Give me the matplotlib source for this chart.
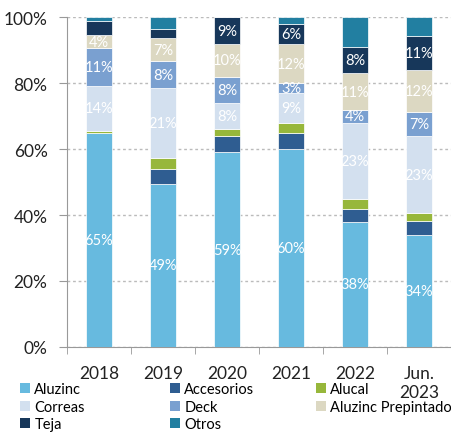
import matplotlib.pyplot as plt
from matplotlib.patches import Patch
import numpy as np

plt.rcParams['font.family'] = ['Lato', 'DejaVu Sans']

years = ['2018', '2019', '2020', '2021', '2022', 'Jun.\n2023']
series = ['Aluzinc', 'Accesorios', 'Alucal', 'Correas', 'Deck',
          'Aluzinc Prepintado', 'Teja', 'Otros']

aluzinc     = [64.8, 49.4, 59.0, 60.0, 38.0, 34.0]
accesorios  = [0.0, 4.5, 5.0, 5.0, 3.8, 4.2]
alucal      = [0.8, 3.3, 2.0, 2.9, 3.1, 2.5]
correas     = [13.6, 21.2, 7.9, 9.1, 23.1, 23.1]
deck        = [11.3, 8.3, 8.0, 3.0, 3.8, 7.5]
prepintado  = [4.1, 6.9, 9.9, 11.8, 11.1, 12.5]
teja        = [4.1, 2.9, 8.2, 6.2, 8.0, 10.5]
otros       = [1.3, 3.5, 0.0, 2.0, 9.1, 5.7]

# labels printed inside the bars (None = no label)
lab_aluzinc    = ['65%', '49%', '59%', '60%', '38%', '34%']
lab_correas    = ['14%', '21%', '8%', '9%', '23%', '23%']
lab_deck       = ['11%', '8%', '8%', '3%', '4%', '7%']
lab_prepintado = ['4%', '7%', '10%', '12%', '11%', '12%']
lab_teja       = [None, None, '9%', '6%', '8%', '11%']

colors = ['#67BADF', '#2F5D91', '#97B73B', '#D3E0EF', '#7AA0D0',
          '#DCD8C2', '#17375A', '#227FA1']

values = [aluzinc, accesorios, alucal, correas, deck, prepintado, teja, otros]
labels = [lab_aluzinc, None, None, lab_correas, lab_deck, lab_prepintado,
          lab_teja, None]

fig = plt.figure(figsize=(4.51, 4.35), dpi=100)
ax = fig.add_axes([67 / 451, 1 - 348 / 435, 384 / 451, 330 / 435])

x = np.arange(len(years))
bottom = np.zeros(len(years))
for vals, col, labs, name in zip(values, colors, labels, series):
    vals = np.array(vals)
    ax.bar(x, vals, 0.4, bottom=bottom, color=col, edgecolor='white',
           linewidth=0.5, label=name, zorder=3)
    if labs is not None:
        for xi, b, v, t in zip(x, bottom, vals, labs):
            if t:
                ax.text(xi, b + v / 2, t, ha='center', va='center',
                        color='white', fontsize=10.5, zorder=4)
    bottom += vals

ax.set_xlim(-0.5, 5.44)
ax.set_ylim(0, 100)
ax.set_yticks(range(0, 101, 20))
ax.set_yticklabels([f'{v}%' for v in range(0, 101, 20)])
ax.yaxis.grid(True, color='#BBBBBB', linestyle=(0, (2, 2)), linewidth=1, zorder=0)
ax.set_xticks(x)
ax.set_xticklabels(years, linespacing=1.2)
ax.set_xticks(np.arange(-0.5, 5.6, 1), minor=True)
ax.tick_params(axis='x', which='major', length=0, pad=13, labelsize=12.5, colors='#222222')
ax.tick_params(axis='x', which='minor', length=5, color='#999999', direction='out')
ax.tick_params(axis='y', length=6, color='#999999', pad=8, labelsize=12.5, labelcolor='#222222')
for s in ['top', 'right']:
    ax.spines[s].set_visible(False)
for s in ['left', 'bottom']:
    ax.spines[s].set_color('#999999')

# legend laid out in three columns like the original
cols = [[0, 3, 6], [1, 4, 7], [2, 5]]
xs = [20 / 451, 170 / 451, 316 / 451]
for idx, xl in zip(cols, xs):
    handles = [Patch(facecolor=colors[i], label=series[i]) for i in idx]
    fig.legend(handles=handles, loc='upper left', bbox_to_anchor=(xl, 1 - 383 / 435),
               frameon=False, fontsize=10.5, handlelength=0.68, handleheight=0.68,
               handletextpad=0.3, labelspacing=0.25, borderpad=0, borderaxespad=0)

fig.savefig('out.png', dpi=100)
